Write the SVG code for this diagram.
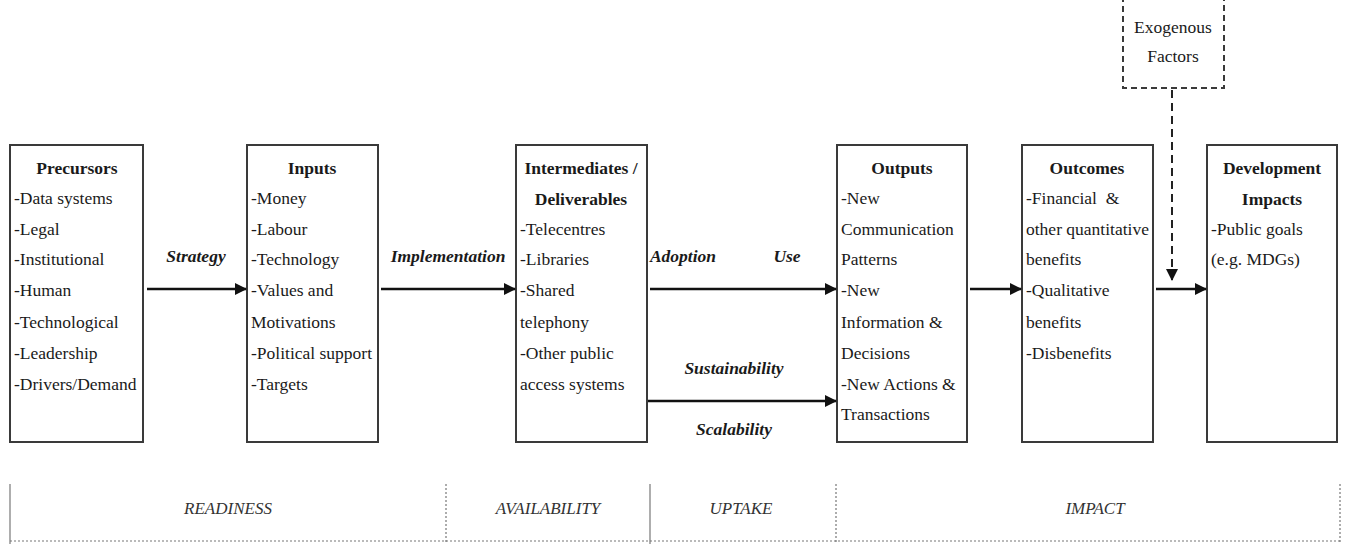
<svg xmlns="http://www.w3.org/2000/svg" width="1345" height="544" viewBox="0 0 1345 544">
  <style>
    text { font-family: "Liberation Serif", Tinos, "DejaVu Serif Condensed", "DejaVu Serif", "Noto Serif", serif; fill: #1a1a1a; }
    .box { fill: #ffffff; stroke: #3a3a3a; stroke-width: 2; }
    .dbox { fill: #ffffff; stroke: #3a3a3a; stroke-width: 2; stroke-dasharray: 6 4; }
    .t { font-size: 17.5px; }
    .h { font-size: 17.5px; font-weight: bold; text-anchor: middle; }
    .lbl { font-size: 17.5px; font-weight: bold; font-style: italic; text-anchor: middle; }
    .phase { font-size: 17px; font-style: italic; fill: #333333; text-anchor: middle; }
    .c { text-anchor: middle; }
    .arrow { fill: none; stroke: #111111; stroke-width: 2.6; }
    .darrow { fill: none; stroke: #222222; stroke-width: 2; stroke-dasharray: 8 5; }
    .band { fill: none; stroke: #777777; stroke-width: 1.2; }
    .bandd { fill: none; stroke: #777777; stroke-width: 1.2; stroke-dasharray: 2 2; }
  </style>
  <defs>
    <marker id="head" markerWidth="12" markerHeight="12" refX="11" refY="6" orient="auto" markerUnits="userSpaceOnUse">
      <path d="M0,0 L12,6 L0,12 Z" fill="#111111"/>
    </marker>
  </defs>

  <rect width="1345" height="544" fill="#ffffff"/>

  <!-- process stages -->
  <g id="precursors">
    <rect class="box" x="10" y="145" width="133" height="297"/>
    <text class="h" x="77" y="174">Precursors</text>
    <text class="t" x="14" y="204">-Data systems</text>
    <text class="t" x="14" y="235">-Legal</text>
    <text class="t" x="14" y="265">-Institutional</text>
    <text class="t" x="14" y="296">-Human</text>
    <text class="t" x="14" y="328">-Technological</text>
    <text class="t" x="14" y="359">-Leadership</text>
    <text class="t" x="14" y="390">-Drivers/Demand</text>
  </g>

  <g id="inputs">
    <rect class="box" x="247" y="145" width="131" height="297"/>
    <text class="h" x="312" y="174">Inputs</text>
    <text class="t" x="251" y="204">-Money</text>
    <text class="t" x="251" y="235">-Labour</text>
    <text class="t" x="251" y="265">-Technology</text>
    <text class="t" x="251" y="296">-Values and</text>
    <text class="t" x="251" y="328">Motivations</text>
    <text class="t" x="251" y="359">-Political support</text>
    <text class="t" x="251" y="390">-Targets</text>
  </g>

  <g id="intermediates">
    <rect class="box" x="516" y="145" width="131" height="297"/>
    <text class="h" x="581" y="174">Intermediates /</text>
    <text class="h" x="581" y="205">Deliverables</text>
    <text class="t" x="520" y="235">-Telecentres</text>
    <text class="t" x="520" y="265">-Libraries</text>
    <text class="t" x="520" y="296">-Shared</text>
    <text class="t" x="520" y="328">telephony</text>
    <text class="t" x="520" y="359">-Other public</text>
    <text class="t" x="520" y="390">access systems</text>
  </g>

  <g id="outputs">
    <rect class="box" x="837" y="145" width="130" height="297"/>
    <text class="h" x="902" y="174">Outputs</text>
    <text class="t" x="841" y="204">-New</text>
    <text class="t" x="841" y="235">Communication</text>
    <text class="t" x="841" y="265">Patterns</text>
    <text class="t" x="841" y="296">-New</text>
    <text class="t" x="841" y="328">Information &amp;</text>
    <text class="t" x="841" y="359">Decisions</text>
    <text class="t" x="841" y="390">-New Actions &amp;</text>
    <text class="t" x="841" y="420">Transactions</text>
  </g>

  <g id="outcomes">
    <rect class="box" x="1022" y="145" width="131" height="297"/>
    <text class="h" x="1087" y="174">Outcomes</text>
    <text class="t" x="1026" y="204" xml:space="preserve">-Financial  &amp;</text>
    <text class="t" x="1026" y="235">other quantitative</text>
    <text class="t" x="1026" y="265">benefits</text>
    <text class="t" x="1026" y="296">-Qualitative</text>
    <text class="t" x="1026" y="328">benefits</text>
    <text class="t" x="1026" y="359">-Disbenefits</text>
  </g>

  <g id="development-impacts">
    <rect class="box" x="1207" y="145" width="130" height="297"/>
    <text class="h" x="1272" y="174">Development</text>
    <text class="h" x="1272" y="205">Impacts</text>
    <text class="t" x="1211" y="235">-Public goals</text>
    <text class="t" x="1211" y="265">(e.g. MDGs)</text>
  </g>

  <g id="exogenous-factors">
    <rect class="dbox" x="1123" y="-4" width="101" height="92"/>
    <text class="t c" x="1173" y="33">Exogenous</text>
    <text class="t c" x="1173" y="62">Factors</text>
  </g>

  <!-- connectors -->
  <g id="connectors">
    <line class="arrow" x1="147" y1="289" x2="246" y2="289" marker-end="url(#head)"/>
    <line class="arrow" x1="381" y1="289" x2="515" y2="289" marker-end="url(#head)"/>
    <line class="arrow" x1="650" y1="289" x2="836" y2="289" marker-end="url(#head)"/>
    <line class="arrow" x1="648" y1="401" x2="836" y2="401" marker-end="url(#head)"/>
    <line class="arrow" x1="970" y1="289" x2="1021" y2="289" marker-end="url(#head)"/>
    <line class="arrow" x1="1156" y1="289" x2="1206" y2="289" marker-end="url(#head)"/>
    <line class="darrow" x1="1172" y1="90" x2="1172" y2="280" marker-end="url(#head)"/>
  </g>

  <!-- connector labels -->
  <g id="connector-labels">
    <text class="lbl" x="196" y="262">Strategy</text>
    <text class="lbl" x="448" y="262">Implementation</text>
    <text class="lbl" x="683" y="262">Adoption</text>
    <text class="lbl" x="787" y="262">Use</text>
    <text class="lbl" x="734" y="374">Sustainability</text>
    <text class="lbl" x="734" y="435">Scalability</text>
  </g>

  <!-- phase band -->
  <g id="phases">
    <line class="band" x1="10" y1="484" x2="10" y2="544"/>
    <line class="bandd" x1="446" y1="484" x2="446" y2="544"/>
    <line class="band" x1="650" y1="484" x2="650" y2="544"/>
    <line class="bandd" x1="836" y1="484" x2="836" y2="544"/>
    <line class="bandd" x1="1340" y1="484" x2="1340" y2="544"/>
    <line class="bandd" x1="10" y1="541" x2="1340" y2="541"/>
    <text class="phase" x="228" y="514">READINESS</text>
    <text class="phase" x="548" y="514">AVAILABILITY</text>
    <text class="phase" x="741" y="514">UPTAKE</text>
    <text class="phase" x="1095" y="514">IMPACT</text>
  </g>
</svg>
